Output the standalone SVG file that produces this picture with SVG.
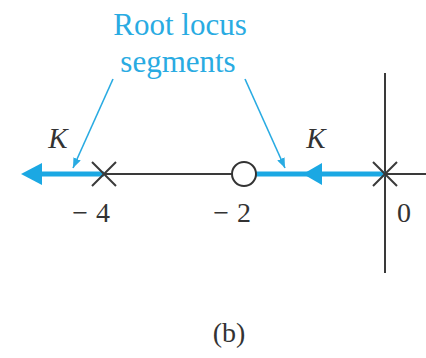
<svg xmlns="http://www.w3.org/2000/svg" width="426" height="358" viewBox="0 0 426 358">
<defs>
<style>
.ax{stroke:#3a3a3a;stroke-width:2;fill:none}
.loc{stroke:#1ba8e3;stroke-width:5;fill:none}
.ptr{stroke:#29abe2;stroke-width:1.6;fill:none}
.ah{fill:#1ba8e3}
.lbl{font-family:"Liberation Serif","Times New Roman",serif;fill:#29abe2;font-size:31px;text-anchor:middle}
.num{font-family:"Liberation Serif","Times New Roman",serif;fill:#333;font-size:28px}
.k{font-family:"Liberation Serif","Times New Roman",serif;font-style:italic;fill:#333;font-size:29px;text-anchor:middle}
</style>
<marker id="pa" viewBox="0 0 10 8" refX="10" refY="4" markerWidth="10" markerHeight="8" markerUnits="userSpaceOnUse" orient="auto">
<path d="M0,0 L10,4 L0,8 Z" fill="#29abe2"/>
</marker>
</defs>
<g id="axes">
<line class="ax" x1="104" y1="174" x2="426" y2="174"/>
<line class="ax" x1="385" y1="73" x2="385" y2="273"/>
</g>
<g id="connectors">
<line class="loc" x1="36" y1="174" x2="104" y2="174"/>
<polygon class="ah" points="21,174 42,163 42,185"/>
<line class="loc" x1="256" y1="174" x2="385" y2="174"/>
<polygon class="ah" points="303,174 322,163 322,185"/>
<line class="ptr" x1="113" y1="79" x2="73" y2="168" marker-end="url(#pa)"/>
<line class="ptr" x1="245" y1="79" x2="285" y2="168" marker-end="url(#pa)"/>
</g>
<g id="pole-m4">
<path class="ax" d="M92,162 L116,186 M116,162 L92,186"/>
</g>
<g id="zero-m2">
<circle cx="244" cy="174" r="12" fill="#fff" stroke="#333" stroke-width="2"/>
</g>
<g id="pole-0">
<path class="ax" d="M373,162 L397,186 M397,162 L373,186"/>
</g>
<g id="labels">
<text class="lbl" x="180" y="35">Root locus</text>
<text class="lbl" x="178" y="72">segments</text>
<text class="k" x="58" y="148">K</text>
<text class="k" x="316" y="148">K</text>
<text class="num" x="110" y="222" text-anchor="end">−<tspan dx="8">4</tspan></text>
<text class="num" x="251" y="222" text-anchor="end">−<tspan dx="8">2</tspan></text>
<text class="num" x="404" y="222" text-anchor="middle">0</text>
<text class="num" x="229" y="342" text-anchor="middle">(b)</text>
</g>
</svg>
